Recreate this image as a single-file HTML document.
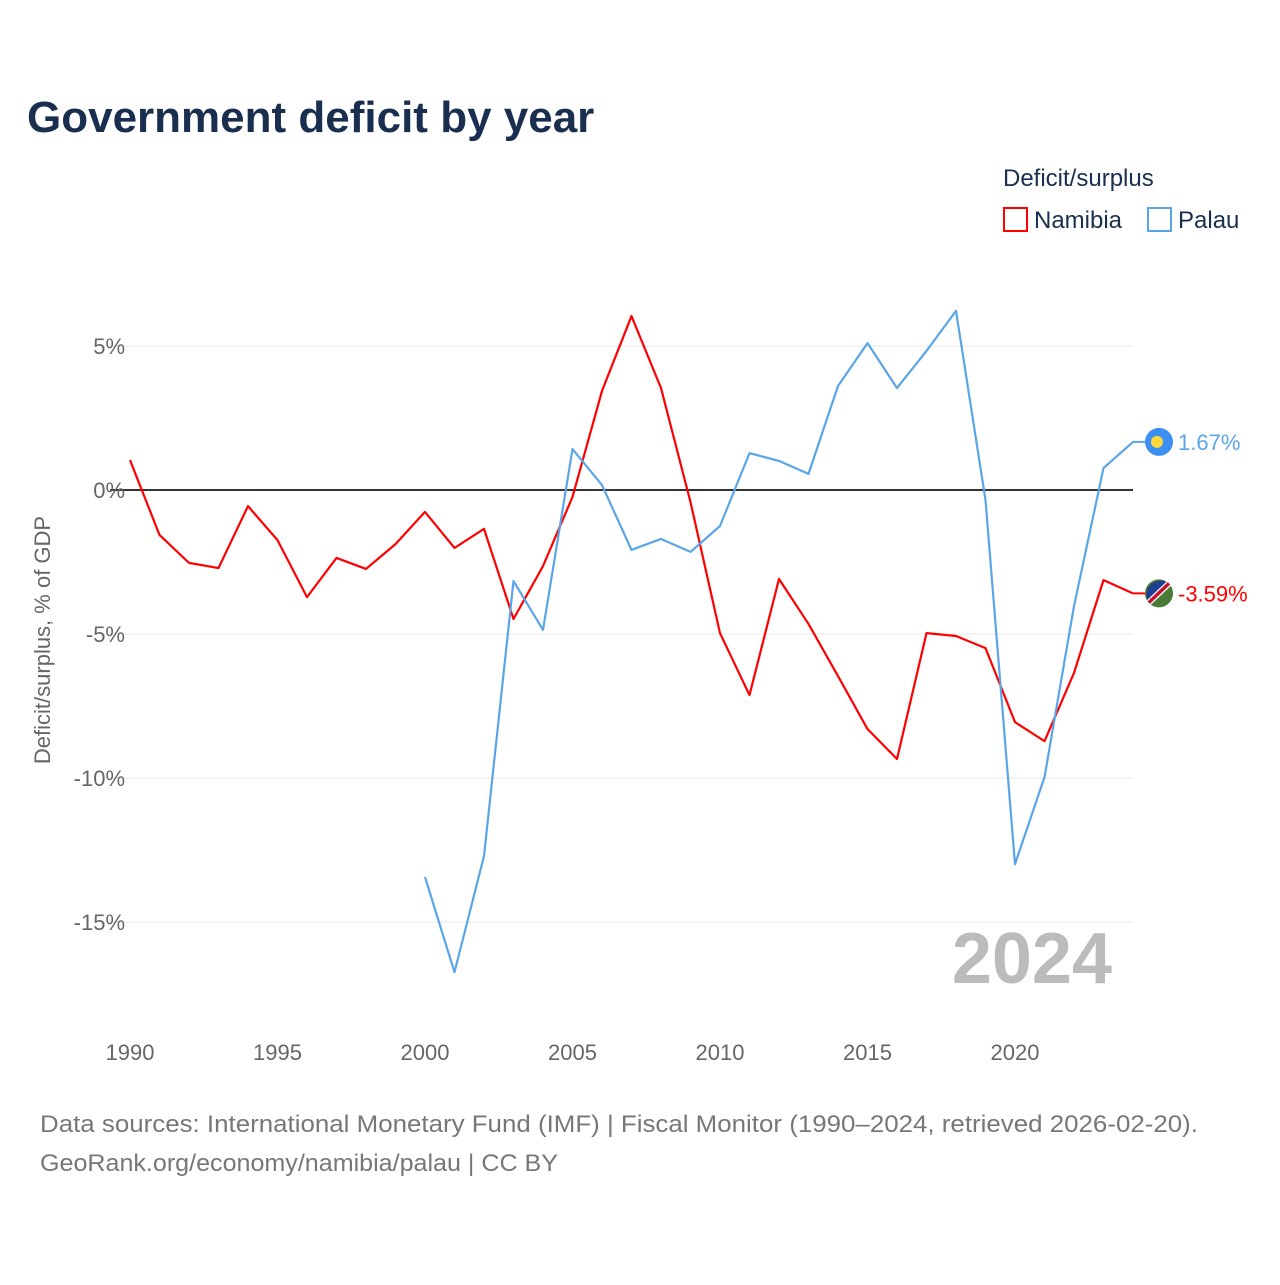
<!DOCTYPE html>
<html><head><meta charset="utf-8"><style>
body{margin:0;background:#fff;font-family:"Liberation Sans",sans-serif;}
#wrap{position:relative;width:1280px;height:1280px;}
</style></head><body><div id="wrap">
<svg id="svg" width="1280" height="1280" xmlns="http://www.w3.org/2000/svg">
<text x="27" y="132" font-size="44" font-weight="bold" fill="#1a2e4f">Government deficit by year</text>
<text x="1003" y="186" font-size="24" fill="#1a2e4f">Deficit/surplus</text>
<g><rect x="1004" y="208" width="23" height="23" fill="none" stroke="#ff0000" stroke-width="2"/><text x="1034" y="228" font-size="24" fill="#1a2e4f">Namibia</text></g>
<g><rect x="1148" y="208" width="23" height="23" fill="none" stroke="#5aa5e8" stroke-width="2"/><text x="1178" y="228" font-size="24" fill="#1a2e4f">Palau</text></g>
<text transform="translate(50,640) rotate(-90)" text-anchor="middle" font-size="22" fill="#666">Deficit/surplus, % of GDP</text>
<g id="grid"></g><g id="xt"></g>
<text x="1112" y="983" text-anchor="end" font-size="72" font-weight="bold" fill="#bbb">2024</text>
<g id="lines"></g>
<text x="40" y="1132" font-size="24" fill="#777" textLength="1158" lengthAdjust="spacingAndGlyphs">Data sources: International Monetary Fund (IMF) | Fiscal Monitor (1990–2024, retrieved 2026-02-20).</text>
<text x="40" y="1171" font-size="24" fill="#777" textLength="518" lengthAdjust="spacingAndGlyphs">GeoRank.org/economy/namibia/palau | CC BY</text>
</svg></div>
<script>
const namibiaYears=[1990,1991,1992,1993,1994,1995,1996,1997,1998,1999,2000,2001,2002,2003,2004,2005,2006,2007,2008,2009,2010,2011,2012,2013,2014,2015,2016,2017,2018,2019,2020,2021,2022,2023,2024];
const namibiaValues=[1.04,-1.56,-2.53,-2.71,-0.56,-1.74,-3.72,-2.36,-2.74,-1.88,-0.76,-2.01,-1.35,-4.48,-2.64,-0.24,3.44,6.04,3.54,-0.42,-4.97,-7.12,-3.09,-4.65,-6.46,-8.3,-9.34,-4.97,-5.07,-5.49,-8.06,-8.72,-6.35,-3.13,-3.59];
const palauYears=[2000,2001,2002,2003,2004,2005,2006,2007,2008,2009,2010,2011,2012,2013,2014,2015,2016,2017,2018,2019,2020,2021,2022,2023,2024];
const palauValues=[-13.44,-16.74,-12.71,-3.16,-4.86,1.42,0.17,-2.08,-1.7,-2.15,-1.25,1.28,1.01,0.56,3.61,5.1,3.54,4.83,6.22,-0.35,-12.99,-9.97,-4.03,0.76,1.67];
const yTicks=[5,0,-5,-10,-15];
const yTickLabels=["5%","0%","-5%","-10%","-15%"];
const xTicks=[1990,1995,2000,2005,2010,2015,2020];
const NS="http://www.w3.org/2000/svg";
const X=y=>130+(y-1990)*29.5;
const Y=v=>490-v*28.8;
function mk(tag,attrs,parent){const e=document.createElementNS(NS,tag);for(const k in attrs)e.setAttribute(k,attrs[k]);parent.appendChild(e);return e;}
const grid=document.getElementById('grid'),xt=document.getElementById('xt'),lines=document.getElementById('lines');
yTicks.forEach((v,i)=>{
 const l=mk('line',{x1:110,x2:1133,y1:Y(v),y2:Y(v),stroke:v===0?'#333':'#e8e8e8','stroke-width':v===0?2:1},grid);
 
 
 const t=mk('text',{x:125,y:Y(v)+8,'text-anchor':'end','font-size':22,fill:'#666'},grid);t.textContent=yTickLabels[i];
 
 
});
xTicks.forEach(y=>{const t=mk('text',{x:X(y),y:1060,'text-anchor':'middle','font-size':22,fill:'#666'},xt);t.textContent=y;
 
 });
function series(ys,vs,color,name){
 const p=mk('polyline',{points:ys.map((y,i)=>X(y)+','+Y(vs[i])).join(' '),fill:'none',stroke:color,'stroke-width':2.2,'stroke-linejoin':'round'},lines);
 
 
 const lx=X(ys[ys.length-1]),ly=Y(vs[vs.length-1]);
 mk('line',{x1:lx,y1:ly,x2:lx+12,y2:ly,stroke:color,'stroke-width':2},lines);
 const f=mk('circle',{cx:lx+26,cy:ly,r:14,fill:name==='palau'?'#3b8ff0':'#4a7a35'},lines);
 
 
 if(name==='palau'){mk('circle',{cx:lx+24,cy:ly,r:6,fill:'#ffd83a'},lines);}
 else{mk('path',{d:`M${lx+15} ${ly+8} A14 14 0 0 1 ${lx+34} ${ly-11} Z`,fill:'#1f3f8f'},lines);
  mk('line',{x1:lx+16,y1:ly+9,x2:lx+36,y2:ly-10,stroke:'#fff','stroke-width':6},lines);
  mk('line',{x1:lx+16,y1:ly+9,x2:lx+36,y2:ly-10,stroke:'#c8102e','stroke-width':3.5},lines);}
 const t=mk('text',{x:lx+45,y:ly+8,'font-size':22,fill:color},lines);t.textContent=vs[vs.length-1].toFixed(2)+'%';
 
 
}
series(namibiaYears,namibiaValues,'#ff0000','namibia');
series(palauYears,palauValues,'#5aa5e8','palau');
</script></body></html>
